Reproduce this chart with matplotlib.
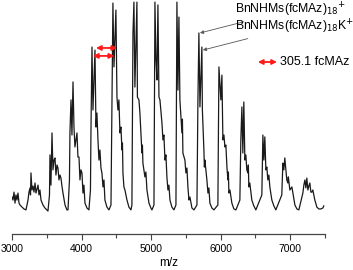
import numpy as np
import matplotlib
matplotlib.use("Agg")
import matplotlib.pyplot as plt
from matplotlib.ticker import MultipleLocator

plt.rcParams["font.family"] = ["Liberation Sans", "DejaVu Sans"]

# spectrum, (m/z, relative intensity)
mz = [3000, 3014, 3029, 3043, 3057, 3072, 3086, 3101, 3115, 3144, 3172, 3201,
      3230, 3244, 3259, 3266, 3273, 3287, 3302, 3316, 3331, 3345, 3374, 3388, 3402, 3417, 3445, 3474, 3517,
      3539, 3546, 3560, 3575, 3589, 3604, 3618, 3632, 3647, 3661, 3675, 3690, 3704, 3718, 3733, 3762, 3790,
      3805, 3826, 3833, 3848, 3862, 3877, 3891, 3905, 3920, 3934, 3948, 3963, 3977, 3991, 4006, 4020, 4034, 4049, 4078, 4106,
      4128, 4135, 4150, 4164, 4193, 4207, 4221, 4236, 4250, 4264, 4279, 4293, 4308, 4322, 4336, 4365, 4394,
      4423, 4437, 4451, 4466, 4494, 4509, 4523, 4537, 4552, 4566, 4581, 4588, 4595, 4609, 4624, 4653, 4681, 4710,
      4724, 4739, 4753, 4767, 4796, 4803, 4825, 4839, 4854, 4868, 4875, 4882, 4911, 4925, 4940, 4969, 4997, 5012,
      5041, 5055, 5070, 5084, 5098, 5113, 5127, 5156, 5170, 5184, 5199, 5213, 5227, 5242, 5256, 5271, 5299, 5328,
      5357, 5371, 5386, 5400, 5414, 5429, 5443, 5450, 5457, 5486, 5500, 5515, 5529, 5544, 5558, 5587, 5616,
      5659, 5673, 5687, 5702, 5730, 5737, 5759, 5766, 5773, 5802, 5817, 5831, 5845, 5874, 5903,
      5960, 5975, 6003, 6018, 6032, 6047, 6061, 6075, 6090, 6104, 6111, 6118, 6133, 6161, 6190, 6219,
      6276, 6290, 6305, 6319, 6333, 6348, 6362, 6376, 6391, 6398, 6405, 6419, 6448, 6477, 6506,
      6592, 6607, 6621, 6635, 6650, 6664, 6678, 6693, 6707, 6736, 6765, 6793,
      6879, 6894, 6908, 6922, 6951, 6966, 6973, 6995, 7024, 7038, 7067, 7096, 7124,
      7182, 7196, 7211, 7225, 7239, 7254, 7268, 7282, 7297, 7311, 7325, 7354, 7383, 7411, 7440, 7469, 7483]
intensity = [15.8, 14.5, 17.9, 13.2, 16.7, 14.5, 17.5, 13.2, 12.4, 11.5, 10.7, 10.3,
             14.5, 17.9, 19.7, 16.7, 26.1, 18.8, 20.5, 17.9, 21.8, 17.5, 20.9, 16.7, 18.8, 14.5, 12.4, 11.1, 9.8,
             16.7, 33.8, 20.9, 43.2, 27.4, 31.6, 32.5, 25.2, 29.5, 28.2, 23.1, 25.2, 23.9, 20.5, 17.5, 12.4, 10.3,
             10.3, 23.1, 43.2, 57.3, 42.3, 65.0, 45.7, 37.2, 40.2, 43.2, 32.9, 32.9, 23.1, 27.4, 26.1, 17.5, 20.9, 13.2, 11.1, 10.3,
             18.8, 43.2, 79.9, 53.0, 78.6, 45.7, 51.7, 40.2, 31.6, 35.9, 28.2, 26.1, 20.1, 23.1, 14.5, 11.5, 10.3,
             12.4, 57.3, 98.7, 71.4, 95.7, 58.5, 53.0, 57.3, 43.2, 45.7, 35.9, 38.9, 26.1, 20.1, 18.8, 14.5, 11.5, 10.3,
             12.4, 85.9, 99.1, 62.8, 99.1, 58.5, 57.3, 51.7, 43.2, 34.6, 38.0, 30.3, 24.4, 26.5, 18.8, 13.2, 11.1, 10.3,
             12.4, 99.1, 74.4, 65.8, 97.9, 58.5, 57.3, 47.4, 40.2, 42.3, 31.6, 33.8, 24.4, 18.8, 20.9, 14.5, 11.5, 10.3,
             12.4, 99.1, 61.5, 92.7, 57.3, 50.0, 43.2, 49.1, 34.6, 31.6, 26.1, 28.2, 20.1, 14.5, 15.8, 11.1, 10.3,
             12.4, 57.3, 85.9, 54.3, 79.9, 53.0, 35.9, 28.6, 31.6, 23.1, 17.5, 19.7, 13.2, 11.1, 10.3,
             12.4, 71.4, 57.3, 67.9, 40.2, 42.3, 37.2, 38.0, 28.6, 23.1, 26.5, 17.5, 18.8, 13.2, 10.7, 10.3,
             14.5, 40.2, 54.3, 34.6, 56.4, 31.6, 33.8, 27.4, 26.1, 29.5, 20.1, 21.8, 14.5, 12.0, 10.3,
             16.7, 42.3, 31.6, 41.5, 27.4, 28.6, 23.1, 25.2, 20.1, 14.5, 12.0, 10.3,
             16.7, 30.3, 27.4, 32.5, 23.1, 21.8, 24.4, 18.8, 20.1, 17.5, 12.4, 10.7, 10.3,
             17.5, 20.9, 23.1, 19.7, 23.9, 18.8, 20.5, 21.8, 17.9, 17.9, 18.8, 14.5, 11.5, 10.7, 10.7, 11.1, 12.0]

repeat_unit = 305.1
label_peaks = [(5702, 85.9), (5744, 78.6)]
label_texts = [r"BnNHMs(fcMAz)$_{18}$$^{+}$", r"BnNHMs(fcMAz)$_{18}$K$^{+}$"]

fig = plt.figure(figsize=(3.53, 2.70), dpi=100)
ax = fig.add_axes([12 / 353, 36 / 270, 313 / 353, 234 / 270])
ax.plot(mz, intensity, color="#1a1a1a", lw=0.9)

ax.set_xlim(3000, 7500)
ax.set_ylim(0, 100)
for s in ["left", "right", "top"]:
    ax.spines[s].set_visible(False)
ax.spines["bottom"].set_color("#444444")
ax.spines["bottom"].set_linewidth(0.9)
ax.set_yticks([])
ax.xaxis.set_major_locator(MultipleLocator(1000))
ax.xaxis.set_minor_locator(MultipleLocator(500))
ax.tick_params(axis="x", which="major", length=4, width=0.8, color="#444444",
               labelsize=7.5, pad=3)
ax.tick_params(axis="x", which="minor", length=3, width=0.8, color="#444444")
ax.set_xlabel("m/z", fontsize=8.5, labelpad=2)

# repeat-unit arrows
red_arrow = dict(arrowstyle="<|-|>", color="#ff1a1a", lw=1.3, mutation_scale=7,
                 shrinkA=0, shrinkB=0)
ax.annotate("", xy=(4207 + repeat_unit, 79.5), xytext=(4207, 79.5), arrowprops=red_arrow)
ax.annotate("", xy=(4164 + repeat_unit, 76.1), xytext=(4164, 76.1), arrowprops=red_arrow)
ax.annotate("", xy=(6535 + repeat_unit * 0.9, 73.5), xytext=(6535, 73.5), arrowprops=red_arrow)
ax.text(6851, 73.5, "305.1 fcMAz", fontsize=9, va="center", ha="left")

# peak labels
for (px, py), txt, ty in zip(label_peaks, label_texts, [95.8, 88.6]):
    ax.annotate(txt, xy=(px, py), xytext=(6205, ty), fontsize=8.8, va="center", ha="left",
                arrowprops=dict(arrowstyle="-|>", color="#555555", lw=0.6,
                                mutation_scale=5, shrinkA=0, shrinkB=0))

fig.savefig("out.png", dpi=100)
